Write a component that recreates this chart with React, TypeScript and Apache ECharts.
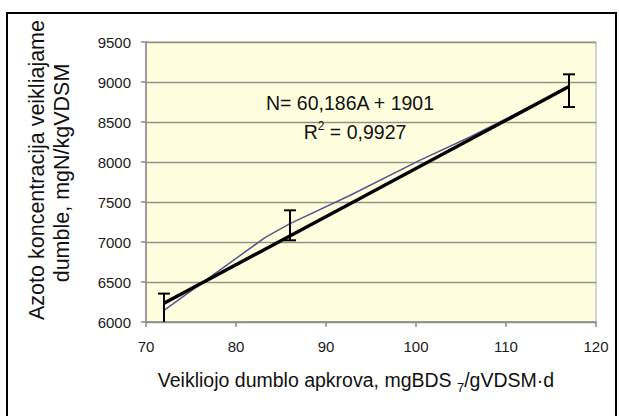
import React, { useEffect, useRef } from "react";
import * as echarts from "echarts";

// Measured data series (thin blue line)
const loadA: number[] = [72, 83.3, 86, 92.7, 100.4, 106, 117];
const nitrogenN: number[] = [6146, 7062, 7230, 7584, 8021, 8312, 8940];

// Linear trend line end points (N = 60,186A + 1901)
const trendA: number[] = [72, 117];
const trendN: number[] = [6234, 8943];

// Error bars
const errA: number[] = [72, 86, 117];
const errLow: number[] = [5960, 7021, 8687];
const errHigh: number[] = [6355, 7396, 9096];

// Axis ticks
const xTicks: number[] = [70, 80, 90, 100, 110, 120];
const yTicks: number[] = [6000, 6500, 7000, 7500, 8000, 8500, 9000, 9500];

const eqLine1 = "N= 60,186A + 1901";
const yTitle1 = "Azoto koncentracija veikliajame";
const yTitle2 = "dumble, mgN/kgVDSM";

const FONT = "'Liberation Sans', Arial, sans-serif";

export default function App() {
  const ref = useRef<HTMLDivElement>(null);
  useEffect(() => {
    if (!ref.current) return;
    const chart = echarts.init(ref.current, null, { renderer: "svg" });
    const lineData = loadA.map((a, i) => [a, nitrogenN[i]]);
    const trendData = trendA.map((a, i) => [a, trendN[i]]);
    const errData = errA.map((a, i) => [a, errLow[i], errHigh[i]]);
    chart.setOption({
      animation: false,
      backgroundColor: "#ffffff",
      textStyle: { fontFamily: FONT },
      grid: {
        left: 146,
        right: 23,
        top: 42,
        bottom: 94,
        show: true,
        backgroundColor: "#FFFFDF",
        borderColor: "#a8a8a8",
        borderWidth: 1,
      },
      xAxis: {
        type: "value",
        min: xTicks[0],
        max: xTicks[xTicks.length - 1],
        interval: 10,
        axisLine: { show: true, lineStyle: { color: "#8a8a8a", width: 1.5 } },
        axisTick: { show: true, inside: false, length: 5, lineStyle: { color: "#8a8a8a", width: 1.5 } },
        axisLabel: {
          color: "#1a1a1a",
          fontSize: 15,
          margin: 17,
          fontFamily: FONT,
          formatter: (v: number) => String(v),
        },
        splitLine: { show: false },
      },
      yAxis: {
        type: "value",
        min: yTicks[0],
        max: yTicks[yTicks.length - 1],
        interval: 500,
        axisLine: { show: true, lineStyle: { color: "#8a8a8a", width: 1.5 } },
        axisTick: { show: true, inside: false, length: 5, lineStyle: { color: "#8a8a8a", width: 1.5 } },
        axisLabel: {
          color: "#1a1a1a",
          fontSize: 15,
          margin: 15,
          fontFamily: FONT,
          formatter: (v: number) => String(v),
        },
        splitLine: { show: true, lineStyle: { color: "#929284", width: 1.4 } },
      },
      series: [
        {
          type: "line",
          data: lineData,
          showSymbol: false,
          symbol: "none",
          lineStyle: { color: "#55558f", width: 1.5 },
          z: 2,
        },
        {
          type: "line",
          data: trendData,
          showSymbol: false,
          symbol: "none",
          lineStyle: { color: "#000000", width: 3.5 },
          z: 3,
        },
        {
          type: "custom",
          clip: true,
          z: 4,
          data: errData,
          renderItem: (params: any, api: any) => {
            const x = api.value(0);
            const lo = api.coord([x, api.value(1)]);
            const hi = api.coord([x, api.value(2)]);
            const half = 6;
            const style = { stroke: "#000000", lineWidth: 2 };
            return {
              type: "group",
              children: [
                { type: "line", shape: { x1: hi[0], y1: hi[1], x2: lo[0], y2: lo[1] }, style },
                { type: "line", shape: { x1: hi[0] - half, y1: hi[1], x2: hi[0] + half, y2: hi[1] }, style },
                { type: "line", shape: { x1: lo[0] - half, y1: lo[1], x2: lo[0] + half, y2: lo[1] }, style },
              ],
            };
          },
        },
      ],
      graphic: [
        {
          type: "rect",
          shape: { x: 7, y: 13, width: 609, height: 430 },
          style: { fill: "none", stroke: "#000000", lineWidth: 2 },
          silent: true,
          z: 100,
        },
        {
          type: "text",
          x: 350,
          y: 103,
          style: {
            text: eqLine1,
            fontSize: 19.5,
            fontFamily: FONT,
            fill: "#111111",
            align: "center",
            verticalAlign: "middle",
          },
          z: 10,
        },
        {
          type: "text",
          x: 355,
          y: 131,
          style: {
            text: "{r|R}{s|2}{r| = 0,9927}",
            align: "center",
            verticalAlign: "middle",
            rich: {
              r: { fontSize: 19.5, fontFamily: FONT, fill: "#111111", lineHeight: 22, verticalAlign: "bottom" },
              s: { fontSize: 12, fontFamily: FONT, fill: "#111111", lineHeight: 22, verticalAlign: "top" },
            },
          },
          z: 10,
        },
        {
          type: "text",
          x: 356,
          y: 382,
          style: {
            text: "{r|Veikliojo dumblo apkrova, mgBDS }{s|7}{r|/gVDSM·d}",
            align: "center",
            verticalAlign: "middle",
            rich: {
              r: { fontSize: 19.5, fontFamily: FONT, fill: "#111111", lineHeight: 24, verticalAlign: "top" },
              s: { fontSize: 13, fontFamily: FONT, fill: "#111111", lineHeight: 24, verticalAlign: "bottom" },
            },
          },
          z: 10,
        },
        {
          type: "text",
          x: 37,
          y: 170,
          rotation: Math.PI / 2,
          style: {
            text: yTitle1,
            fontSize: 21.5,
            fontFamily: FONT,
            fill: "#111111",
            align: "center",
            verticalAlign: "middle",
          },
          z: 10,
        },
        {
          type: "text",
          x: 62,
          y: 173,
          rotation: Math.PI / 2,
          style: {
            text: yTitle2,
            fontSize: 21.5,
            fontFamily: FONT,
            fill: "#111111",
            align: "center",
            verticalAlign: "middle",
          },
          z: 10,
        },
      ],
    });
    return () => chart.dispose();
  }, []);
  return (
    <div
      ref={ref}
      style={{ position: "absolute", left: 0, top: 0, width: 619, height: 416, background: "#ffffff" }}
    />
  );
}
